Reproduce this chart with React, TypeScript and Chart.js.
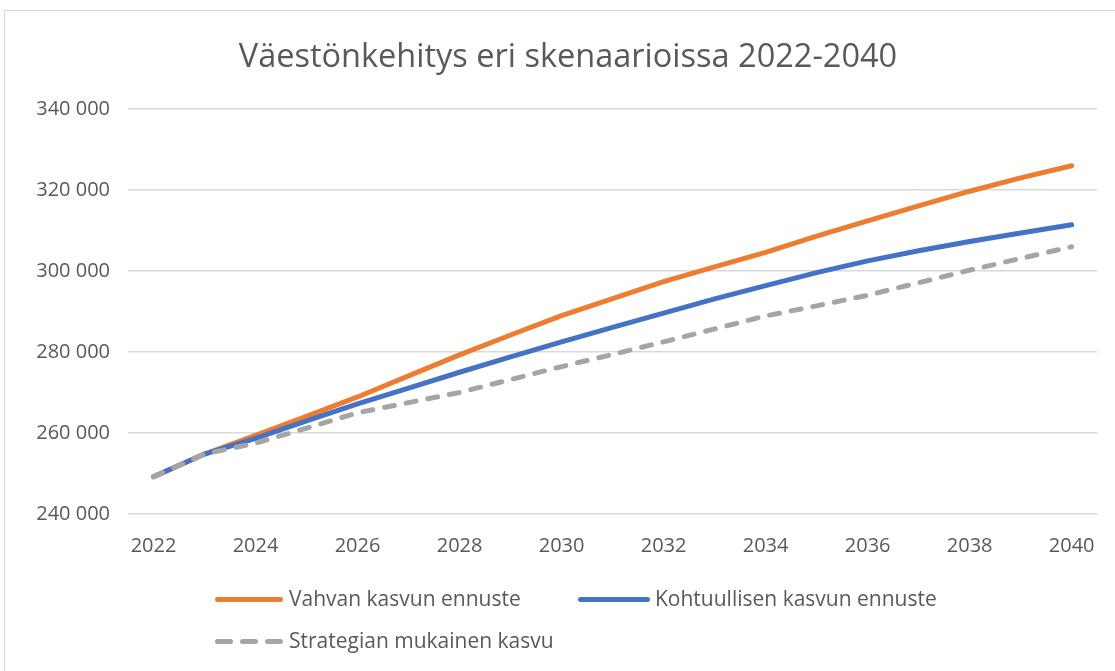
import React, { useEffect, useRef } from "react";
import { Chart, registerables } from "chart.js";

Chart.register(...registerables);

const years = [
  "2022", "2023", "2024", "2025", "2026", "2027", "2028", "2029", "2030", "2031",
  "2032", "2033", "2034", "2035", "2036", "2037", "2038", "2039", "2040",
];

const vahva = [
  249200, 254800, 259400, 264100, 268900, 274100, 279300, 284200, 289000, 293200,
  297400, 301000, 304600, 308600, 312400, 316100, 319700, 323000, 326000,
];

const kohtuullinen = [
  249200, 254800, 258700, 263000, 267200, 271100, 275000, 278800, 282500, 286100,
  289600, 293100, 296400, 299600, 302500, 305000, 307300, 309400, 311400,
];

const strategia = [
  249200, 254800, 257500, 261200, 265000, 267500, 270000, 273200, 276400, 279400,
  282500, 285700, 288900, 291400, 294000, 297100, 300200, 303100, 306000,
];

const seriesNames = [
  "Vahvan kasvun ennuste",
  "Kohtuullisen kasvun ennuste",
  "Strategian mukainen kasvu",
];

const title = "Väestönkehitys eri skenaarioissa 2022-2040";

const FONT = "'Open Sans', sans-serif";
const TEXT = "#595959";

function fmt(v: number): string {
  const s = String(Math.round(v));
  return s.replace(/\B(?=(\d{3})+(?!\d))/g, " ");
}

export default function App() {
  const ref = useRef<HTMLCanvasElement | null>(null);

  useEffect(() => {
    if (!ref.current) return;
    const chart = new Chart(ref.current, {
      type: "line",
      data: {
        labels: years,
        datasets: [
          {
            label: seriesNames[0],
            data: vahva,
            borderColor: "#ED7D31",
            backgroundColor: "#ED7D31",
            borderWidth: 5,
            pointRadius: 0,
            borderCapStyle: "round",
            borderJoinStyle: "round",
            tension: 0,
            order: 2,
          },
          {
            label: seriesNames[1],
            data: kohtuullinen,
            borderColor: "#4472C4",
            backgroundColor: "#4472C4",
            borderWidth: 5,
            pointRadius: 0,
            borderCapStyle: "round",
            borderJoinStyle: "round",
            tension: 0,
            order: 1,
          },
          {
            label: seriesNames[2],
            data: strategia,
            borderColor: "#A5A5A5",
            backgroundColor: "#A5A5A5",
            borderWidth: 5,
            pointRadius: 0,
            borderDash: [10, 12],
            borderCapStyle: "round",
            borderJoinStyle: "round",
            tension: 0,
            order: 0,
          },
        ],
      },
      options: {
        responsive: false,
        animation: false,
        layout: { padding: { top: 109, right: 17, bottom: 0, left: 0 } },
        plugins: {
          legend: { display: false },
          tooltip: { enabled: false },
          title: { display: false },
        },
        scales: {
          x: {
            type: "category",
            offset: true,
            grid: { display: false, drawTicks: false },
            border: { display: false },
            ticks: {
              autoSkip: false,
              maxRotation: 0,
              padding: 20,
              color: TEXT,
              font: { family: FONT, size: 20 },
              callback: function (_v: any, i: number) {
                return i % 2 === 0 ? years[i] : "";
              },
            },
            afterFit: (scale: any) => {
              scale.height = 157;
            },
          },
          y: {
            min: 240000,
            max: 340000,
            grid: { color: "#d9d9d9", lineWidth: 1.5, drawTicks: false },
            border: { display: false },
            ticks: {
              stepSize: 20000,
              padding: 18,
              color: TEXT,
              font: { family: FONT, size: 20 },
              callback: (v: any) => fmt(Number(v)),
            },
            afterFit: (scale: any) => {
              scale.width = 128;
            },
          },
        },
      },
    });
    return () => chart.destroy();
  }, []);

  const legendText: React.CSSProperties = {
    position: "absolute",
    fontFamily: FONT,
    fontSize: 21,
    color: TEXT,
    lineHeight: "26px",
    whiteSpace: "nowrap",
  };

  return (
    <div
      style={{
        position: "fixed",
        left: 0,
        top: 0,
        width: 1115,
        height: 671,
        overflow: "hidden",
        background: "#ffffff",
      }}
    >
      <div
        style={{
          position: "absolute",
          left: 4,
          top: 10,
          width: 1200,
          height: 800,
          border: "1.5px solid #d9d9d9",
        }}
      />
      <canvas
        ref={ref}
        width={1115}
        height={671}
        style={{ position: "absolute", left: 0, top: 0, width: 1115, height: 671 }}
      />
      <div
        style={{
          position: "absolute",
          left: 68,
          width: 1000,
          top: 35,
          lineHeight: "40px",
          textAlign: "center",
          fontFamily: FONT,
          fontSize: 32.5,
          color: TEXT,
          whiteSpace: "nowrap",
        }}
      >
        {title}
      </div>
      {/* legend */}
      <div style={{ position: "absolute", left: 215, top: 597, width: 68, height: 5, borderRadius: 3, background: "#ED7D31" }} />
      <div style={{ ...legendText, left: 289, top: 585 }}>{seriesNames[0]}</div>
      <div style={{ position: "absolute", left: 578, top: 597, width: 72, height: 5, borderRadius: 3, background: "#4472C4" }} />
      <div style={{ ...legendText, left: 655, top: 585 }}>{seriesNames[1]}</div>
      <div style={{ position: "absolute", left: 215, top: 639, width: 68, height: 5, display: "flex", gap: 7 }}>
        <div style={{ width: 18, height: 5, borderRadius: 3, background: "#A5A5A5" }} />
        <div style={{ width: 18, height: 5, borderRadius: 3, background: "#A5A5A5" }} />
        <div style={{ width: 18, height: 5, borderRadius: 3, background: "#A5A5A5" }} />
      </div>
      <div style={{ ...legendText, left: 289, top: 627 }}>{seriesNames[2]}</div>
    </div>
  );
}
